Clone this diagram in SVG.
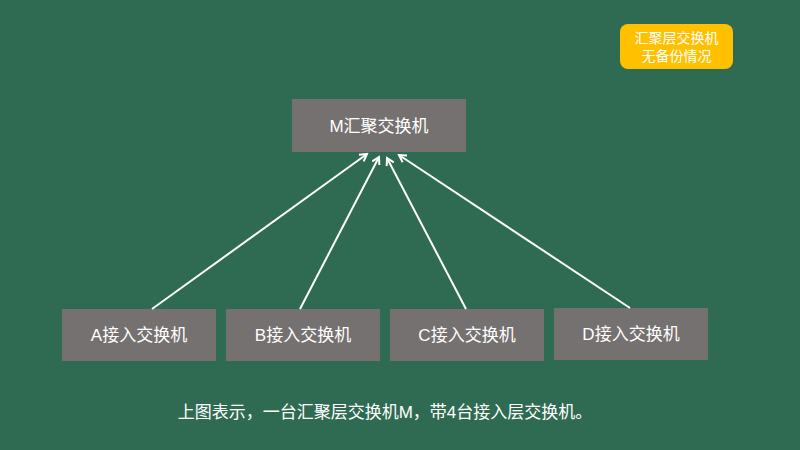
<svg xmlns="http://www.w3.org/2000/svg" width="800" height="450" viewBox="0 0 800 450">
<style>
.box{fill:#767171}
.t{font-family:"Liberation Sans","Noto Sans CJK SC",sans-serif;fill:#fff;text-anchor:middle}
.c line{stroke:#fff;stroke-width:2;marker-end:url(#a)}
</style>
<defs><marker id="a" markerWidth="10" markerHeight="10" refX="8" refY="5" orient="auto" markerUnits="userSpaceOnUse"><path d="M1,1 L8,5 L1,9" fill="none" stroke="#fff" stroke-width="2"/></marker></defs>
<rect width="800" height="450" fill="#2E6B52"/>
<g id="legend"><rect x="620" y="24" width="113" height="45" rx="8" fill="#FFC000"/>
<text class="t" x="676.5" y="43" font-size="14">汇聚层交换机</text>
<text class="t" x="676.5" y="61" font-size="14">无备份情况</text></g>
<g id="M"><rect class="box" x="292" y="99" width="174" height="53"/><text class="t" x="379" y="132" font-size="17">M汇聚交换机</text></g>
<g id="A"><rect class="box" x="62" y="309" width="154" height="52"/><text class="t" x="139" y="341" font-size="17">A接入交换机</text></g>
<g id="B"><rect class="box" x="226" y="309" width="154" height="52"/><text class="t" x="303" y="341" font-size="17">B接入交换机</text></g>
<g id="C"><rect class="box" x="390" y="309" width="154" height="52"/><text class="t" x="467" y="341" font-size="17">C接入交换机</text></g>
<g id="D"><rect class="box" x="554" y="308" width="154" height="52"/><text class="t" x="631" y="340" font-size="17">D接入交换机</text></g>
<g class="c">
<line x1="152" y1="309" x2="367" y2="154"/>
<line x1="300" y1="309" x2="379" y2="157"/>
<line x1="466" y1="309" x2="387" y2="158"/>
<line x1="630" y1="308" x2="399" y2="155"/>
</g>
<text class="t" x="385" y="418" font-size="17">上图表示，一台汇聚层交换机M，带4台接入层交换机。</text>
</svg>
